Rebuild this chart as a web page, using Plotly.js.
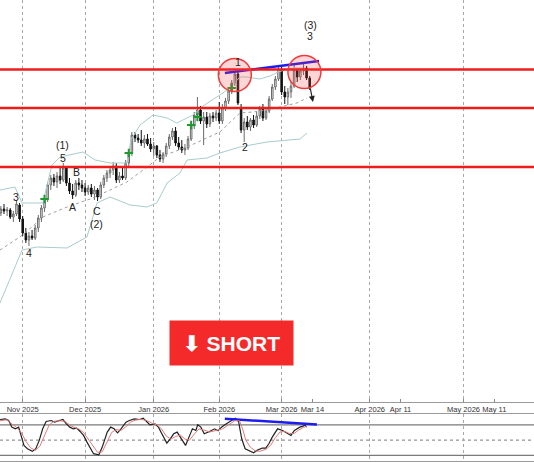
<!DOCTYPE html>
<html><head><meta charset="utf-8">
<script src="https://cdn.plot.ly/plotly-3.0.1.min.js"></script>
<style>html,body{margin:0;padding:0;background:#fff}#chart{width:534px;height:462px}</style>
</head><body><div id="chart"></div>
<script>
// ---- data (bar index 0 = first trading day of Nov 2025) ----
const firstBar = -7;
const openP  = [287,291,289,290,283,286,295,281,267,260,264,262,272,282,292,301,315,322,318,324,320,332,317,309,305,317,315,312,308,312,306,310,303,315,322,327,330,334,320,324,322,337,347,365,362,360,357,361,356,351,354,345,341,346,354,363,369,357,353,350,352,361,374,385,390,379,383,376,384,382,387,379,392,399,409,417,426,392,370,378,373,380,375,384,391,382,389,401,413,421,431,408,403,408,414,430,423,429,432,422];
const highP  = [294,296,293,292,289,300,297,284,272,268,270,275,285,295,304,318,325,326,328,332,337,334,322,316,320,322,320,317,315,316,314,312,318,325,330,334,338,337,328,332,340,350,368,368,366,370,365,366,362,358,355,350,348,357,366,372,373,363,360,356,364,378,388,403,394,388,388,387,388,390,398,396,402,412,420,429,428,396,382,384,382,385,388,394,396,392,404,416,424,434,434,414,412,418,435,432,432,438,434,424];
const lowP   = [284,286,284,281,278,284,278,264,257,254,260,260,268,278,288,298,310,314,312,316,318,314,306,301,303,310,308,304,305,303,300,299,301,312,318,322,325,317,317,320,320,334,344,358,357,354,352,354,348,344,342,338,337,343,351,360,354,350,347,345,350,359,371,380,376,355,372,373,378,379,376,376,389,396,406,414,395,367,358,370,369,372,373,381,379,380,387,399,410,419,405,396,395,402,412,418,420,425,420,410];
const closeP = [291,289,290,283,286,296,281,267,260,264,262,272,282,292,301,315,322,318,324,320,332,317,309,305,317,315,312,308,312,306,310,303,315,322,327,330,334,320,324,322,337,347,365,362,360,357,361,356,351,354,345,341,346,354,363,369,357,353,350,352,361,374,385,390,379,383,376,384,382,387,379,392,399,409,417,426,397,370,378,373,380,375,384,391,382,389,401,413,421,431,408,403,408,414,430,423,429,432,422,412];

// Bollinger bands
const bbUpperX = [-7.3,-2.5,-0.2,6.5,7.8,9.4,12,15.2,19.3,23.2,28,33.4,34.7,37.6,41.8,46.3,49.4,54.6,57.8,63.2,66.4,69.6,71.9,76,79.3,81.8,84.1,87.3,89.8];
const bbUpperY = [310,313,297,297,315,335,343,345,348,340,337,337,360,375,385,382,377,385,394,405,412,423,423,421,424,428,430,432,432];
const bbMidX = [-7.3,-0.9,3.3,6.5,14.2,22.5,28,33.4,38.6,44,52.7,59.1,63.2,69.6,73.8,78.3,82.5,87.9,91.1];
const bbMidY = [250,263,274,283,293,302,310,318,330,343,353,362,368,387,388,390,393,397,402];
const bbLowerX = [-7.3,-0.2,4.6,14.2,20.6,23.8,28,34.4,39.8,43,46.3,50.4,52.7,59.1,63.2,69.6,78.3,88.9,91.1];
const bbLowerY = [197,250,253,252,263,297,303,295,293,297,317,327,340,342,347,353,358,361,367];

// green signal markers
const signalX = [7,34,54,56,67];
const signalY = [301,347,375,383,412];

// horizontal resistance / support levels
const redLevels = [430.5,392,333];

// highlighted tops
const circleX = [68.0,90.3];
const circleY = [425,428];

// trend lines
const trendX = [64.8,95];
const trendY = [427,439];
const oscTrendX = [64.8,94.3];
const oscTrendY = [91.9,80.8];

// projected move arrow (start, tip)
const arrowX = [92.1,93.05];
const arrowY = [413,398];

// wave labels
const waveText = ['3','4','(1)','5','A','B','C','(2)','1','2','(3)','3'];
const waveX = [-2.15,2.0,12.9,12.9,16.1,17.1,23.8,23.8,69.0,71.3,92.1,92.1];
const waveY = [303,247,355,342,293,328,289,276,438,353,475,464];

// stochastic oscillator
const stochKX = [-7.3,-5.6,-4.5,-3.5,-2.4,-1.3,0.4,1.5,3.1,4.2,5.3,6.4,7.5,9.1,10.2,11.8,12.9,14.0,15.1,16.2,17.3,18.4,19.5,20.6,21.7,22.7,24.4,25.5,27.1,28.2,29.3,30.4,31.5,33.1,34.2,35.8,37.5,38.6,39.7,40.8,42.4,43.5,44.6,46.2,47.3,48.4,49.5,50.6,52.2,53.3,54.4,55.5,56.1,57.1,58.2,59.9,61.5,62.6,63.7,65.3,67.0,68.1,69.2,70.2,71.3,73.0,74.0,75.1,76.8,77.9,78.9,80.0,81.7,83.3,85.0,86.0,87.1,88.8,89.9,90.4,91.0];
const stochK  = [90.5,91.8,88.5,75.5,72.2,75.5,39.6,33.1,27.9,33.1,49.4,72.2,86.6,88.5,85.3,88.5,90.5,82.0,75.5,72.2,73.5,67.0,59.2,46.1,33.1,23.3,21.3,36.3,65.7,75.5,72.2,64.4,72.2,85.3,88.5,91.8,90.5,93.1,86.6,80.0,82.0,75.5,62.4,44.2,52.6,62.4,65.7,55.9,39.6,55.9,72.2,69.0,80.0,75.5,62.4,67.0,72.2,68.3,75.5,82.0,88.5,93.1,86.6,52.6,33.1,27.9,25.2,29.8,34.4,34.4,42.9,55.9,72.2,69.0,62.4,59.2,69.0,75.5,77.4,80.0,75.5];
const stochDX = [-7.3,-5,-3.5,-2,-0.5,1,2.5,4,5.5,7,8.5,10,12,13.5,15,16.5,18,19.5,21,22.5,24,25.5,27,28.5,30,31.5,33,34.5,36,38,40,41.5,43,44.5,46,47.5,49,50.5,52,53.5,55,56.5,58,60,62,64,66,68,69.5,70.5,71.5,73,74.5,76,78,79.5,81,82.5,84,85.5,87,88.5,90,91];
const stochD  = [88,90,82,75,65,48,35,30,38,58,80,87,88,87,80,75,72,65,52,38,26,27,45,65,71,69,76,85,89,91,88,83,80,72,58,52,57,60,52,50,62,72,70,66,69,72,80,88,88,72,50,36,29,28,32,40,55,66,67,63,63,70,75,77];
const stochLevels = [80,50,20];

// axis labels
const monthPos = [0,20,42,63,83,111.25,141.3];
const tickPos = [0,20,42,63,83,92.9,111.25,121.1,141.3,151.2];
const tickText = ['Nov 2025','Dec 2025','Jan 2026','Feb 2026','Mar 2026','Mar 14','Apr 2026','Apr 11','May 2026','May 11'];

// ---- build ----
const bars = openP.map((_, k) => firstBar + k);
const xRange = [-7.28, 163.9];
const PX_PER_BAR = 3.12, CIRCLE_R = 16.5;

const traces = [
  {type:'scatter',mode:'lines',x:bbUpperX,y:bbUpperY,line:{color:'#a9cccc',width:1},hoverinfo:'skip'},
  {type:'scatter',mode:'lines',x:bbLowerX,y:bbLowerY,line:{color:'#a9cccc',width:1},hoverinfo:'skip'},
  {type:'scatter',mode:'lines',x:bbMidX,y:bbMidY,line:{color:'#a0a0a0',width:1,dash:'dot'},hoverinfo:'skip'},
  {type:'candlestick',x:bars,open:openP,high:highP,low:lowP,close:closeP,
   increasing:{line:{color:'#6a6a6a',width:1},fillcolor:'#f4f4f4'},
   decreasing:{line:{color:'#111',width:1},fillcolor:'#111'},whiskerwidth:0,hoverinfo:'skip'},
  {type:'scatter',mode:'markers',x:signalX,y:signalY,xaxis:'x4',marker:{symbol:'cross-thin',size:6,line:{color:'#1f9a2f',width:2}},hoverinfo:'skip'},
  {type:'scatter',mode:'lines',x:trendX,y:trendY,line:{color:'#1c1cf0',width:2.5},hoverinfo:'skip'},
  {type:'scatter',mode:'lines',x:stochDX,y:stochD,xaxis:'x3',yaxis:'y2',line:{color:'#e07a7a',width:1},hoverinfo:'skip'},
  {type:'scatter',mode:'lines',x:stochKX,y:stochK,xaxis:'x2',yaxis:'y2',line:{color:'#222',width:1.2},hoverinfo:'skip'},
  {type:'scatter',mode:'lines',x:oscTrendX,y:oscTrendY,xaxis:'x2',yaxis:'y2',line:{color:'#1c1cf0',width:2.5},hoverinfo:'skip'}
];

const shapes = [];
redLevels.forEach(v => shapes.push({type:'line',xref:'paper',x0:0,x1:1,yref:'y',y0:v,y1:v,line:{color:'#f01c1c',width:2.5},layer:'above'}));
circleX.forEach((cx, k) => shapes.push({type:'circle',xref:'x',yref:'y',
  x0:cx-CIRCLE_R/PX_PER_BAR,x1:cx+CIRCLE_R/PX_PER_BAR,y0:circleY[k]-CIRCLE_R,y1:circleY[k]+CIRCLE_R,
  fillcolor:'rgba(255,70,70,0.22)',line:{color:'#ee3b3b',width:1.5},layer:'above'}));
stochLevels.forEach(v => shapes.push({type:'line',xref:'paper',x0:0,x1:1,yref:'y2',y0:v,y1:v,
  line:{color:'#7a7a7a',width:v===50?1:1.3,dash:v===50?'dot':'solid'},layer:'below'}));

const annotations = waveText.map((t, k) => ({text:t,x:waveX[k],y:waveY[k],xref:'x',yref:'y',showarrow:false,
  font:{family:'Liberation Sans, Arial, sans-serif',size:10.5,color:'#222'}}));
annotations.push({text:'',x:arrowX[1],y:arrowY[1],ax:arrowX[0],ay:arrowY[0],xref:'x',yref:'y',axref:'x',ayref:'y',
  showarrow:true,arrowhead:2,arrowsize:1,arrowwidth:1.2,arrowcolor:'#222'});
annotations.push({text:'<b>⬇ SHORT</b>',xref:'paper',yref:'paper',x:231/534,y:1-343/462,xanchor:'center',yanchor:'middle',
  showarrow:false,bgcolor:'#f42a2a',width:123,height:44,borderpad:0,
  font:{family:'Liberation Sans, Arial, sans-serif',size:21,color:'#ffffff'}});

const gridAxis = {range:xRange,tickvals:monthPos,showgrid:true,gridcolor:'#a8a8a8',griddash:'dot',gridwidth:1,
  showticklabels:false,ticks:'',zeroline:false,showline:true,mirror:true,linecolor:'#9a9a9a',linewidth:1.5,fixedrange:true};

const layout = {
  width:534,height:462,margin:{l:0,r:0,t:0,b:0},paper_bgcolor:'#fff',plot_bgcolor:'#fff',showlegend:false,
  xaxis:Object.assign({},gridAxis,{anchor:'y',rangeslider:{visible:false}}),
  xaxis2:Object.assign({},gridAxis,{anchor:'y2'}),
  xaxis3:{range:xRange,overlaying:'x2',anchor:'y2',side:'top',tickvals:tickPos,ticktext:tickText,showgrid:false,
    showline:false,zeroline:false,ticks:'',tickangle:0,automargin:false,
    tickfont:{family:'Liberation Sans Narrow, Liberation Sans, Arial, sans-serif',size:7.5,color:'#333'}},
  xaxis4:{range:xRange,overlaying:'x',anchor:'y',tickvals:tickPos,showgrid:false,showline:false,zeroline:false,
    ticks:'inside',ticklen:3,tickcolor:'#888',showticklabels:false},
  yaxis:{domain:[0.1299,1],range:[98,500],showgrid:false,zeroline:false,showticklabels:false,ticks:'',fixedrange:true},
  yaxis2:{domain:[0.0022,0.103],range:[9,100.5],showgrid:false,zeroline:false,showticklabels:false,ticks:'',fixedrange:true},
  shapes:shapes,annotations:annotations
};
Plotly.newPlot('chart',traces,layout,{staticPlot:true,displayModeBar:false});
</script></body></html>
